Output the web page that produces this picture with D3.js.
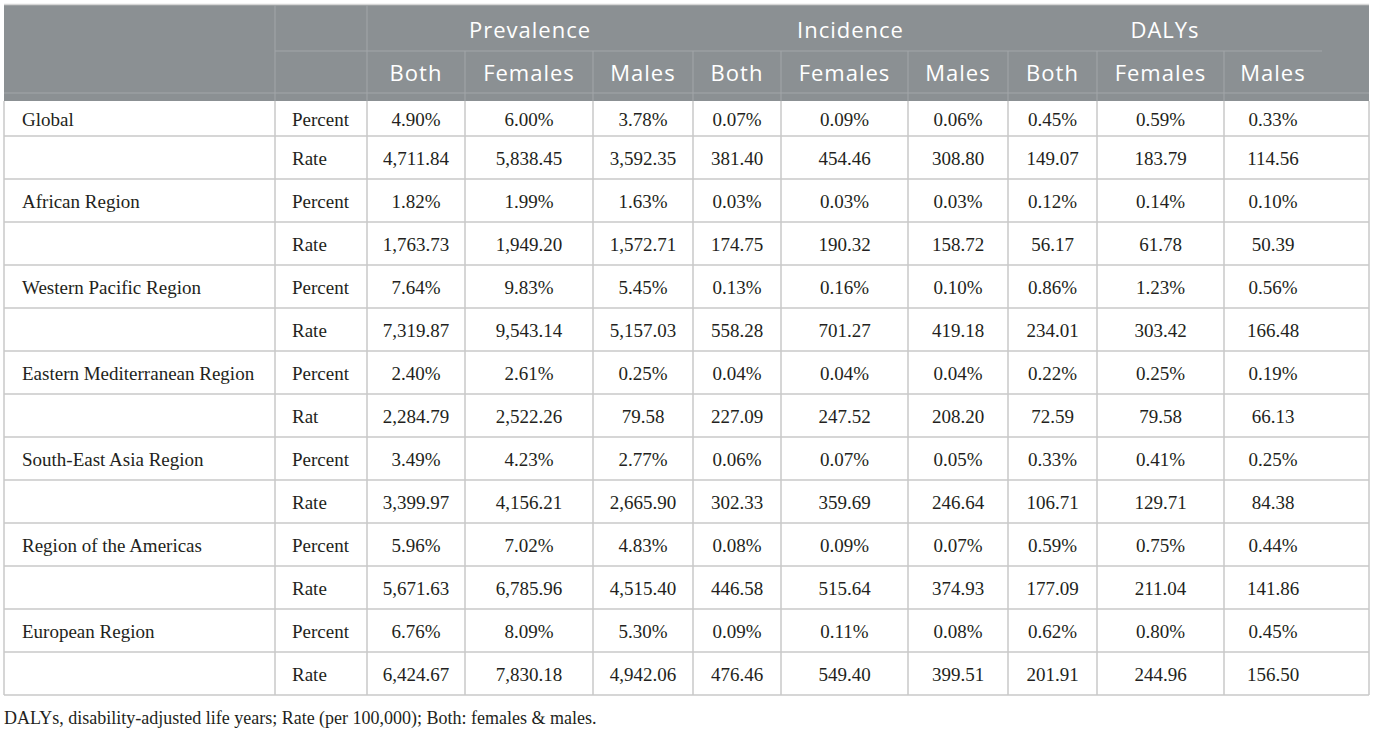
<!DOCTYPE html>
<html>
<head>
<meta charset="utf-8">
<title>Prevalence, incidence and DALYs by WHO region</title>
<script src="https://cdnjs.cloudflare.com/ajax/libs/d3/7.8.5/d3.min.js"></script>
<style>
    body { margin: 0; background: #ffffff; }
    .head-text { font-family: "Open Sans", sans-serif; fill: #ffffff; font-size: 22px; letter-spacing: 1px; }
    .cell-text { font-family: "Liberation Serif", serif; fill: #231f20; font-size: 19px; }
    .note-text { font-family: "Liberation Serif", serif; fill: #231f20; font-size: 18px; }
</style>
</head>
<body>
<div id="panel"></div>
<script>
    // table content
    var groups = ["Prevalence", "Incidence", "DALYs"];
    var sexes = ["Both", "Females", "Males"];
    var regions = ["Global", "African Region", "Western Pacific Region", "Eastern Mediterranean Region",
                   "South-East Asia Region", "Region of the Americas", "European Region"];
    var measures = ["Percent", "Rate"];
    // the source table has "Rat" in the Eastern Mediterranean row
    var rateLabels = ["Rate", "Rate", "Rate", "Rat", "Rate", "Rate", "Rate"];

    // per region: prevalence both/females/males, incidence ..., DALYs ...
    var percentValues = [
        ["4.90%", "6.00%", "3.78%", "0.07%", "0.09%", "0.06%", "0.45%", "0.59%", "0.33%"],
        ["1.82%", "1.99%", "1.63%", "0.03%", "0.03%", "0.03%", "0.12%", "0.14%", "0.10%"],
        ["7.64%", "9.83%", "5.45%", "0.13%", "0.16%", "0.10%", "0.86%", "1.23%", "0.56%"],
        ["2.40%", "2.61%", "0.25%", "0.04%", "0.04%", "0.04%", "0.22%", "0.25%", "0.19%"],
        ["3.49%", "4.23%", "2.77%", "0.06%", "0.07%", "0.05%", "0.33%", "0.41%", "0.25%"],
        ["5.96%", "7.02%", "4.83%", "0.08%", "0.09%", "0.07%", "0.59%", "0.75%", "0.44%"],
        ["6.76%", "8.09%", "5.30%", "0.09%", "0.11%", "0.08%", "0.62%", "0.80%", "0.45%"]
    ];
    var rateValues = [
        ["4,711.84", "5,838.45", "3,592.35", "381.40", "454.46", "308.80", "149.07", "183.79", "114.56"],
        ["1,763.73", "1,949.20", "1,572.71", "174.75", "190.32", "158.72", "56.17", "61.78", "50.39"],
        ["7,319.87", "9,543.14", "5,157.03", "558.28", "701.27", "419.18", "234.01", "303.42", "166.48"],
        ["2,284.79", "2,522.26", "79.58", "227.09", "247.52", "208.20", "72.59", "79.58", "66.13"],
        ["3,399.97", "4,156.21", "2,665.90", "302.33", "359.69", "246.64", "106.71", "129.71", "84.38"],
        ["5,671.63", "6,785.96", "4,515.40", "446.58", "515.64", "374.93", "177.09", "211.04", "141.86"],
        ["6,424.67", "7,830.18", "4,942.06", "476.46", "549.40", "399.51", "201.91", "244.96", "156.50"]
    ];
    var footnote = "DALYs, disability-adjusted life years; Rate (per 100,000); Both: females & males.";
</script>
<script>
    var width = 1375, height = 729;

    // layout
    var colEdges = [4, 275, 367, 465, 593, 693, 781, 908, 1008, 1097, 1224, 1322];
    var tableRight = 1369;
    var headTop = 5, headMid = 51, headBottom = 101;
    var firstRowBottom = 136, tableBottom = 695;
    var headFill = "#8b9093";
    var headLine = "#a2a6a9";
    var gridLine = "#c9c9c9";

    var svg = d3.select("#panel").append("svg")
        .attr("width", width)
        .attr("height", height);

    // flatten body rows
    var rows = [];
    regions.forEach(function(r, i) {
        rows.push({region: r, measure: measures[0], values: percentValues[i]});
        rows.push({region: "", measure: rateLabels[i], values: rateValues[i]});
    });

    // row tops: first row is shorter (header overlaps it)
    var rowScale = d3.scaleLinear().domain([1, rows.length]).range([firstRowBottom, tableBottom]);
    function rowTop(i) { return i === 0 ? headBottom : rowScale(i); }
    function rowBottom(i) { return rowScale(i + 1); }

    function colCenter(j) { return (colEdges[j] + colEdges[j + 1]) / 2; }

    // ---- header ----
    svg.append("rect")
        .attr("x", colEdges[0]).attr("y", headTop)
        .attr("width", tableRight - colEdges[0]).attr("height", headBottom - headTop)
        .attr("fill", headFill);
    svg.append("line")
        .attr("x1", colEdges[0]).attr("x2", tableRight)
        .attr("y1", headTop - 0.5).attr("y2", headTop - 0.5)
        .attr("stroke", "#d6d6d6").attr("stroke-width", 1.5);

    // header lines
    svg.append("line")
        .attr("x1", colEdges[1]).attr("x2", colEdges[colEdges.length - 1])
        .attr("y1", headMid).attr("y2", headMid)
        .attr("stroke", headLine).attr("stroke-width", 1);
    svg.append("line")
        .attr("x1", colEdges[0]).attr("x2", tableRight)
        .attr("y1", headBottom - 8).attr("y2", headBottom - 8)
        .attr("stroke", headLine).attr("stroke-width", 1);
    [1, 2].forEach(function(j) {
        svg.append("line")
            .attr("x1", colEdges[j]).attr("x2", colEdges[j])
            .attr("y1", headTop).attr("y2", headBottom)
            .attr("stroke", headLine).attr("stroke-width", 1);
    });
    d3.range(3, colEdges.length - 1).forEach(function(j) {
        svg.append("line")
            .attr("x1", colEdges[j]).attr("x2", colEdges[j])
            .attr("y1", headMid).attr("y2", headBottom)
            .attr("stroke", headLine).attr("stroke-width", 1);
    });

    groups.forEach(function(g, k) {
        var x0 = colEdges[2 + k * 3], x1 = colEdges[2 + k * 3 + 3];
        svg.append("text")
            .attr("class", "head-text")
            .attr("x", (x0 + x1) / 2)
            .attr("y", 29)
            .attr("text-anchor", "middle")
            .attr("dominant-baseline", "central")
            .text(g);
        sexes.forEach(function(s, m) {
            svg.append("text")
                .attr("class", "head-text")
                .attr("x", colCenter(2 + k * 3 + m))
                .attr("y", 72)
                .attr("text-anchor", "middle")
                .attr("dominant-baseline", "central")
                .text(s);
        });
    });

    // ---- body ----
    var body = svg.append("g");
    rows.forEach(function(row, i) {
        var y0 = rowTop(i), y1 = rowBottom(i);
        var cy = (y0 + y1) / 2 + 1;
        body.append("line")
            .attr("x1", colEdges[0]).attr("x2", tableRight)
            .attr("y1", y1).attr("y2", y1)
            .attr("stroke", gridLine).attr("stroke-width", 1.5);
        body.append("text")
            .attr("class", "cell-text")
            .attr("x", 22).attr("y", cy)
            .attr("dominant-baseline", "central")
            .text(row.region);
        body.append("text")
            .attr("class", "cell-text")
            .attr("x", colEdges[1] + 17).attr("y", cy)
            .attr("dominant-baseline", "central")
            .text(row.measure);
        row.values.forEach(function(v, j) {
            body.append("text")
                .attr("class", "cell-text")
                .attr("x", colCenter(j + 2)).attr("y", cy)
                .attr("text-anchor", "middle")
                .attr("dominant-baseline", "central")
                .text(v);
        });
    });
    // vertical grid lines in the body
    colEdges.slice(0, colEdges.length - 1).concat([tableRight]).forEach(function(x) {
        body.append("line")
            .attr("x1", x).attr("x2", x)
            .attr("y1", headBottom).attr("y2", tableBottom)
            .attr("stroke", gridLine).attr("stroke-width", 1.5);
    });

    // footnote
    svg.append("text")
        .attr("class", "note-text")
        .attr("x", 4).attr("y", 718)
        .attr("dominant-baseline", "central")
        .text(footnote);
</script>
</body>
</html>
